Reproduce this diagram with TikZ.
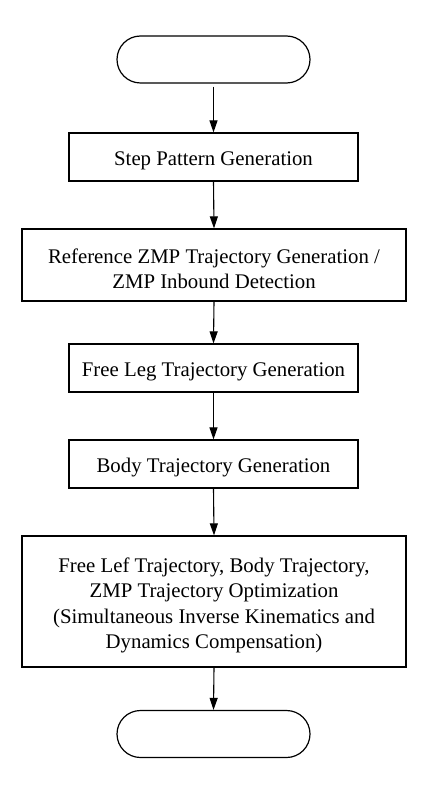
\documentclass[tikz,border=0pt]{standalone}
\usepackage{fontspec}
\setmainfont{Liberation Serif}
\usetikzlibrary{arrows.meta}
\begin{document}
\begin{tikzpicture}[x=1pt,y=1pt,
  every node/.style={font=\fontsize{20.8}{25.3}\selectfont, align=center, inner sep=0pt, line width=1.2pt},
  procbox/.style={draw, rectangle, minimum width=#1},
  termbox/.style={draw, rectangle, rounded corners=23.5pt, minimum width=193pt, minimum height=47pt},
  boxtext/.style={yshift=-4pt},
  flow/.style={line width=1.1pt, -{Triangle[length=12pt,width=8pt]}}
]
\useasboundingbox (0,0) rectangle (428,-794);
\node[termbox] (start) at (213.5,-59.5) {};
\node[procbox=289pt, minimum height=48pt] (b1) at (213.5,-157) {};
\node[procbox=384pt, minimum height=72pt] (b2) at (214,-265) {};
\node[procbox=289pt, minimum height=48pt] (b3) at (213.5,-368) {};
\node[procbox=289pt, minimum height=48pt] (b4) at (213.5,-464) {};
\node[procbox=384pt, minimum height=131pt] (b5) at (214,-601.5) {};
\node[termbox] (end) at (213.5,-734) {};
\node[boxtext] (t1) at (b1) {Step Pattern Generation};
\node[boxtext] (t2) at (b2) {Reference ZMP Trajectory Generation /\\ZMP Inbound Detection};
\node[boxtext] (t3) at (b3) {Free Leg Trajectory Generation};
\node[boxtext] (t4) at (b4) {Body Trajectory Generation};
\node[boxtext] (t5) at (b5) {Free Lef Trajectory, Body Trajectory,\\ZMP Trajectory Optimization\\(Simultaneous Inverse Kinematics and\\Dynamics Compensation)};
\draw[flow, shorten <=3pt] (start.south) -- (b1.north);
\draw[flow] (b1.south) -- (b2.north);
\draw[flow] (b2.south) -- (b3.north);
\draw[flow] (b3.south) -- (b4.north);
\draw[flow] (b4.south) -- (b5.north);
\draw[flow] (b5.south) -- (end.north);
\end{tikzpicture}
\end{document}
